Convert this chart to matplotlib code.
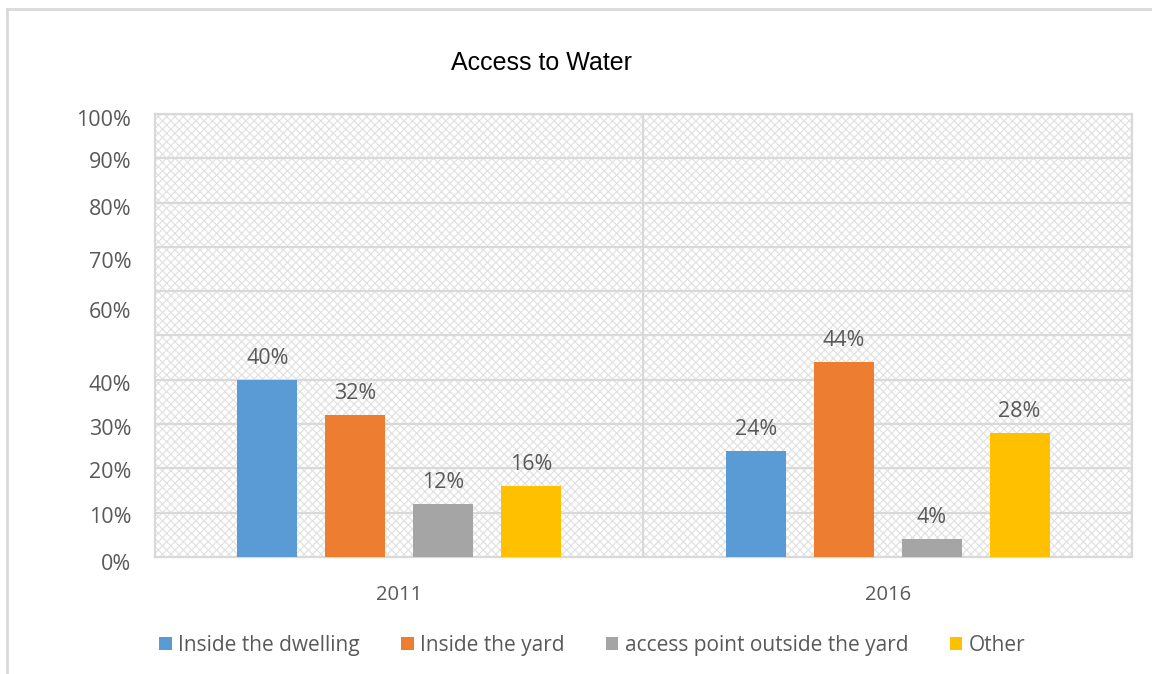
import matplotlib.pyplot as plt
import numpy as np
from matplotlib.patches import Rectangle
from matplotlib.lines import Line2D
from matplotlib.transforms import ScaledTranslation

plt.rcParams['font.family'] = ['Open Sans', 'DejaVu Sans']
plt.rcParams['hatch.color'] = '#e0e0e0'
plt.rcParams['hatch.linewidth'] = 0.8

TEXT = '#595959'
GRID = '#d9d9d9'

years = ['2011', '2016']
series = ['Inside the dwelling', 'Inside the yard', 'access point outside the yard', 'Other']
values = [
    [40, 24],   # Inside the dwelling
    [32, 44],   # Inside the yard
    [12, 4],    # access point outside the yard
    [16, 28],   # Other
]
colors = ['#5b9bd5', '#ed7d31', '#a5a5a5', '#ffc000']

# axis labels as laid out on the page (50% label is absent)
ytick_labels = ['0%', '10%', '20%', '30%', '40%', '60%', '70%', '80%', '90%', '100%']
ytick_pos = [0, 9.5, 19.6, 29.3, 39.3, 55.7, 67.0, 79.0, 89.6, 99.1]

fig = plt.figure(figsize=(11.52, 6.74), dpi=100)
ax = fig.add_axes([0.1345, 0.1736, 0.8481, 0.6573])

# light grey border around the chart area
fig.add_artist(Line2D([0.0065, 0.0065], [0, 0.987], transform=fig.transFigure, color=GRID, lw=2))
fig.add_artist(Line2D([0.0065, 1.0], [0.987, 0.987], transform=fig.transFigure, color=GRID, lw=2))

# textured plot background
ax.add_patch(Rectangle((0, 0), 1, 1, transform=ax.transAxes, facecolor='white',
                       edgecolor='#e0e0e0', hatch='xxxx', lw=0, zorder=0))
ax.set_facecolor('white')

x = np.arange(len(years))
width = 0.123
offsets = [-0.27, -0.09, 0.09, 0.27]
for i, name in enumerate(series):
    bars = ax.bar(x + offsets[i], values[i], width, color=colors[i], label=name, zorder=3)
    for b, v in zip(bars, values[i]):
        ax.text(b.get_x() + b.get_width() / 2, v + 2.5, f'{v}%', ha='center', va='bottom',
                fontsize=15.5, color=TEXT, zorder=4)

ax.set_xticks(x)
ax.set_xticklabels(years, fontsize=14.5, color=TEXT)
ax.tick_params(axis='x', length=0, pad=20)

ax.set_yticks(ytick_pos)
ax.set_yticklabels(ytick_labels, fontsize=15.5, color=TEXT)
ax.set_yticks(np.arange(0, 101, 10), minor=True)
ax.tick_params(axis='y', which='both', length=0, pad=17)
ax.grid(which='minor', axis='y', color=GRID, lw=1.6, zorder=1)
ax.axvline(0.5, color=GRID, lw=1.6, zorder=1)

# limits last, set_yticks would otherwise widen them
ax.set_xlim(-0.5, 1.5)
ax.set_ylim(0, 100)

# the 0% label sits a little below the baseline
zero_lbl = ax.yaxis.get_major_ticks()[0].label1
zero_lbl.set_transform(zero_lbl.get_transform() + ScaledTranslation(0, -5 / 100, fig.dpi_scale_trans))

for s in ax.spines.values():
    s.set_color(GRID)
    s.set_linewidth(1.6)

fig.text(0.47, 0.9065, 'Access to Water', ha='center', va='center', fontsize=18,
         family='Liberation Sans', color='black')

fig.legend(loc='center', bbox_to_anchor=(0.514, 0.043), ncol=4, frameon=False,
           fontsize=15, handlelength=0.6, handleheight=0.6, handletextpad=0.3,
           columnspacing=2.0, labelcolor=TEXT)

plt.savefig('out.png', dpi=100)
